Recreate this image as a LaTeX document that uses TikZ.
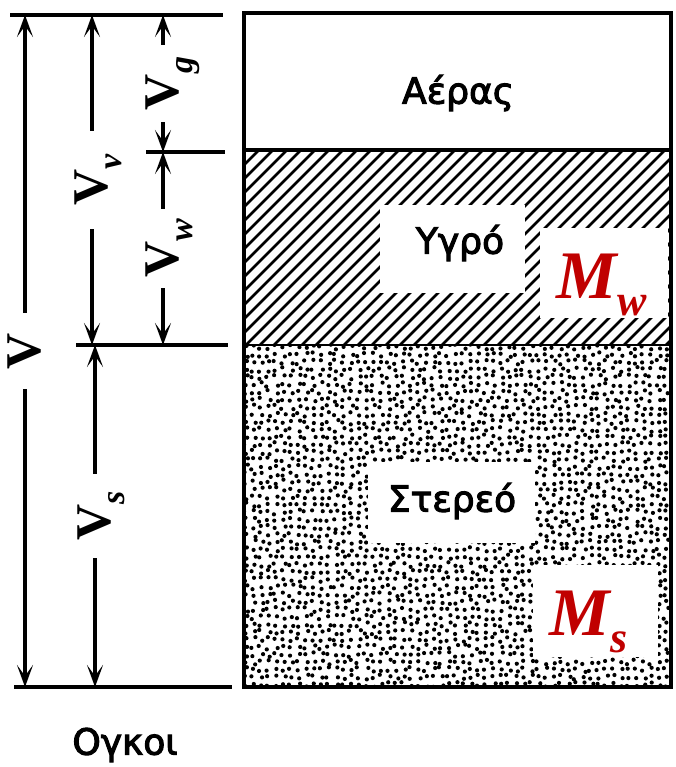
\documentclass[tikz,border=0pt]{standalone}
\usepackage{fontspec}
\setmainfont{Liberation Serif}
\newfontfamily\greekfont[FakeBold=3]{DejaVu Sans}
\usetikzlibrary{arrows.meta, positioning}
\definecolor{massred}{RGB}{192,0,0}

\tikzset{
  dimline/.style={line width=3.4pt,
    {Stealth[length=22pt,width=16pt,inset=11pt]}-{Stealth[length=22pt,width=16pt,inset=11pt]}},
  extline/.style={line width=3.4pt},
  dimlab/.style={rotate=90, fill=white, inner xsep=14pt, inner ysep=2pt,
    font=\fontsize{50}{50}\selectfont\bfseries},
  phaselab/.style={font=\greekfont\fontsize{36}{36}\selectfont},
  masslab/.style={text=massred, anchor=base west,
    font=\fontsize{68}{68}\selectfont\bfseries\itshape},
}
\newcommand{\vsub}[1]{V\smash{\raisebox{-0.28em}{\fontsize{34}{34}\selectfont\itshape #1}}}
\newcommand{\msub}[1]{M\raisebox{-17pt}{\fontsize{44}{44}\selectfont #1}}

\begin{document}
\begin{tikzpicture}[x=1pt, y=-1pt]
  \useasboundingbox (0,0) rectangle (676,767);

  % hatched layer (water)
  \begin{scope}
    \clip (244,150) rectangle (671,345);
    \foreach \i in {-15,...,32}
      \draw[line width=2.6pt] (244+14*\i,347) -- ++(197,-197);
  \end{scope}

  % stippled layer (solids)
  \pgfmathsetseed{7}
  \begin{scope}
    \clip (244,345) rectangle (671,687);
    \foreach \i in {0,...,57}
      \foreach \j in {0,...,46}
        \fill ({246+7.5*\i+2.4*rand},{347+7.5*\j+2.4*rand}) circle (2.1);
  \end{scope}

  % phase box
  \draw[line width=4.5pt] (244,13) rectangle (671,687);
  \draw[line width=3.4pt] (244,150) -- (671,150);
  \draw[line width=1.5pt] (244,345) -- (671,345);

  % labels inside the box
  \fill[white] (380,205) rectangle (525,293);
  \fill[white] (540,228) rectangle (668,318);
  \fill[white] (368,462) rectangle (535,543);
  \fill[white] (533,565) rectangle (658,657);
  \node[phaselab] (air) at (458,93) {Αέρας};
  \node[phaselab] (wet) at (460,243) {Υγρό};
  \node[phaselab] (solid) at (452,501) {Στερεό};
  \node[masslab] (mw) at (553,298) {\msub{w}};
  \node[masslab] (ms) at (546,635) {\msub{s}};

  % extension lines
  \draw[extline] (10,15) -- (223,15);
  \draw[extline] (146,152) -- (225,152);
  \draw[extline] (76,345) -- (228,345);
  \draw[extline] (14,687) -- (232,687);

  % volume dimensions
  \coordinate (V-t) at (25,15);
  \coordinate (V-b) at (25,687);
  \coordinate (Vv-t) at (92,15);
  \coordinate (Vv-b) at (92,345);
  \coordinate (Vg-t) at (163,15);
  \coordinate (Vg-b) at (163,152);
  \coordinate (Vw-b) at (163,345);
  \coordinate (Vs-t) at (95,345);
  \coordinate (Vs-b) at (95,687);

  \draw[dimline] (V-t) -- node[dimlab, inner xsep=20pt] (V) {V} (V-b);
  \draw[dimline] (Vv-t) -- node[dimlab, inner xsep=23pt] (Vv) {\vsub{v}} (Vv-b);
  \draw[dimline] (Vg-t) -- node[dimlab, inner xsep=12pt] (Vg) {\vsub{g}} (Vg-b);
  \draw[dimline] (Vg-b) -- node[dimlab, inner xsep=10pt] (Vw) {\vsub{w}} (Vw-b);
  \draw[dimline] (Vs-t) -- node[dimlab, inner xsep=17pt] (Vs) {\vsub{s}} (Vs-b);

  \node[phaselab] (vol) at (125,745) {Ογκοι};
\end{tikzpicture}
\end{document}
